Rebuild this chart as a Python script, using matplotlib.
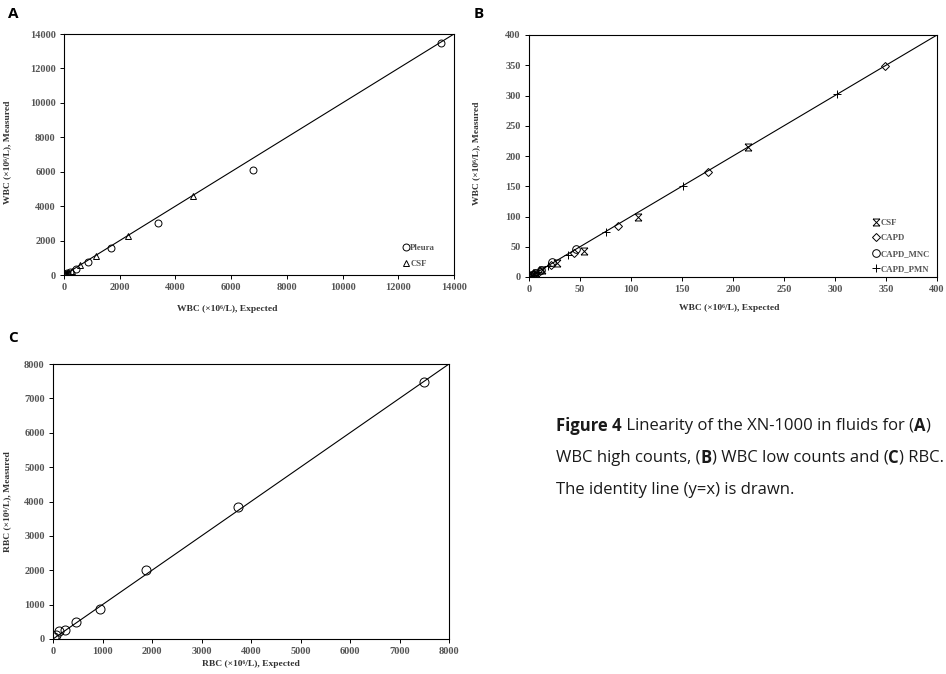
import matplotlib as mpl
mpl.use('Agg')
import matplotlib.pyplot as plt
from matplotlib.path import Path

#
#--- panel A: WBC high counts
#
a_pleura_x = [13550, 6780, 3390, 1700, 850, 425, 210, 105, 52, 26]
a_pleura_y = [13500, 6120, 3020, 1570, 750, 360, 200, 95, 45, 25]
a_csf_x    = [4620, 2310, 1155, 580, 290, 145, 72, 36]
a_csf_y    = [4600, 2270, 1120, 560, 260, 140, 70, 30]
#
#--- panel B: WBC low counts
#
b_csf_x  = [215, 107, 54, 27, 13, 7, 3]
b_csf_y  = [215, 100, 43, 23, 11, 6, 3]
b_capd_x = [349, 175, 87, 44, 22, 11, 5, 3]
b_capd_y = [348, 174, 84, 40, 20, 10, 5, 2]
b_mnc_x  = [46, 23, 12, 6, 3, 1]
b_mnc_y  = [46, 24, 11, 6, 3, 1]
b_pmn_x  = [302, 151, 75, 38, 19, 9, 5, 2]
b_pmn_y  = [302, 151, 74, 36, 18, 9, 4, 2]
#
#--- panel C: RBC
#
c_x = [7490, 3740, 1870, 940, 470, 235, 120, 60, 30]
c_y = [7480, 3840, 2000, 880, 500, 260, 240, 110, 60]

W, H = 946, 674
serif = ['Liberation Serif', 'DejaVu Serif']
tcol = '#555555'
fsize = 7.5
lsize = 6.8
gsize = 6.3

#
#--- custom marker for CSF in panel B (x with top/bottom bars)
#
csf_marker = Path([(-1, -1), (1, 1), (-1, 1), (1, -1),
                   (-1, 1), (1, 1), (-1, -1), (1, -1)],
                  [Path.MOVETO, Path.LINETO, Path.MOVETO, Path.LINETO,
                   Path.MOVETO, Path.LINETO, Path.MOVETO, Path.LINETO])


def make_axes(fig, left, top, right, bottom):
    return fig.add_axes([left / W, 1 - bottom / H, (right - left) / W, (bottom - top) / H])


def style_axes(ax, lim, step, xlab, ylab, xl_pos, yl_pos):
    ax.set_xlim(0, lim)
    ax.set_ylim(0, lim)
    ax.set_xticks(range(0, lim + 1, step))
    ax.set_yticks(range(0, lim + 1, step))
    ax.tick_params(direction='out', length=3, width=0.7, colors='black',
                   labelcolor=tcol, labelsize=fsize, pad=3)
    for lab in ax.get_xticklabels() + ax.get_yticklabels():
        lab.set_family(serif)
        lab.set_weight('bold')
    for sp in ax.spines.values():
        sp.set_linewidth(0.8)
    ax.plot([0, lim], [0, lim], color='black', lw=0.8, zorder=1)
    ax.set_xlabel(xlab, fontsize=lsize, family=serif, weight='bold', color='#333333')
    ax.set_ylabel(ylab, fontsize=lsize, family=serif, weight='bold', color='#333333')
    ax.xaxis.set_label_coords(*xl_pos)
    ax.yaxis.set_label_coords(*yl_pos)


def scatter(ax, x, y, marker, ms, label):
    ax.plot(x, y, linestyle='none', marker=marker, markersize=ms, markerfacecolor='none',
            markeredgecolor='black', markeredgewidth=0.7, label=label, zorder=3)


def legend(ax, loc_xy):
    leg = ax.legend(loc='lower left', bbox_to_anchor=loc_xy, frameon=False, handlelength=0.7,
                    handletextpad=0.15, labelspacing=0.85, borderaxespad=0,
                    prop={'family': serif, 'size': gsize})
    for t in leg.get_texts():
        t.set_color(tcol)
        t.set_weight('bold')


fig = plt.figure(figsize=(W / 100.0, H / 100.0), dpi=100)

#
#--- panel A
#
ax = make_axes(fig, 64, 34, 454, 275)
style_axes(ax, 14000, 2000, 'WBC (×10⁶/L), Expected', 'WBC (×10⁶/L), Measured',
           (0.418, -0.125), (-0.135, 0.51))
scatter(ax, a_pleura_x, a_pleura_y, 'o', 5, 'Pleura')
scatter(ax, a_csf_x, a_csf_y, '^', 5, 'CSF')
legend(ax, (0.86, 0.015))

#
#--- panel B
#
ax = make_axes(fig, 529, 35, 937, 277)
style_axes(ax, 400, 50, 'WBC (×10⁶/L), Expected', 'WBC (×10⁶/L), Measured',
           (0.49, -0.11), (-0.12, 0.51))
scatter(ax, b_csf_x, b_csf_y, csf_marker, 5, 'CSF')
scatter(ax, b_capd_x, b_capd_y, 'D', 4.2, 'CAPD')
scatter(ax, b_mnc_x, b_mnc_y, 'o', 5.5, 'CAPD_MNC')
scatter(ax, b_pmn_x, b_pmn_y, '+', 6, 'CAPD_PMN')
legend(ax, (0.835, 0.0))

#
#--- panel C
#
ax = make_axes(fig, 53, 364, 449, 639)
style_axes(ax, 8000, 1000, 'RBC (×10⁶/L), Expected', 'RBC (×10⁶/L), Measured',
           (0.5, -0.075), (-0.105, 0.5))
scatter(ax, c_x, c_y, 'o', 6.5, None)

#
#--- panel letters
#
for txt, px, py in [('A', 8, 14), ('B', 474, 14), ('C', 8, 338)]:
    fig.text(px / W, 1 - py / H, txt, fontsize=11, weight='bold', family='Open Sans',
             va='center', ha='left')

#
#--- caption with mixed weights
#
caption = [
    [('Figure 4', 'bold'), (' Linearity of the XN-1000 in fluids for (', 'normal'),
     ('A', 'bold'), (')', 'normal')],
    [('WBC high counts, (', 'normal'), ('B', 'bold'), (') WBC low counts and (', 'normal'),
     ('C', 'bold'), (') RBC.', 'normal')],
    [('The identity line (y=x) is drawn.', 'normal')],
]
renderer = fig.canvas.get_renderer()
for i, parts in enumerate(caption):
    px = 556
    py = 426 + i * 32
    for s, w in parts:
        t = fig.text(px / W, 1 - py / H, s, fontsize=12, weight=w, family='Open Sans',
                     va='center', ha='left', color='#1a1a1a')
        px += t.get_window_extent(renderer).width

fig.savefig('out.png', dpi=100)
